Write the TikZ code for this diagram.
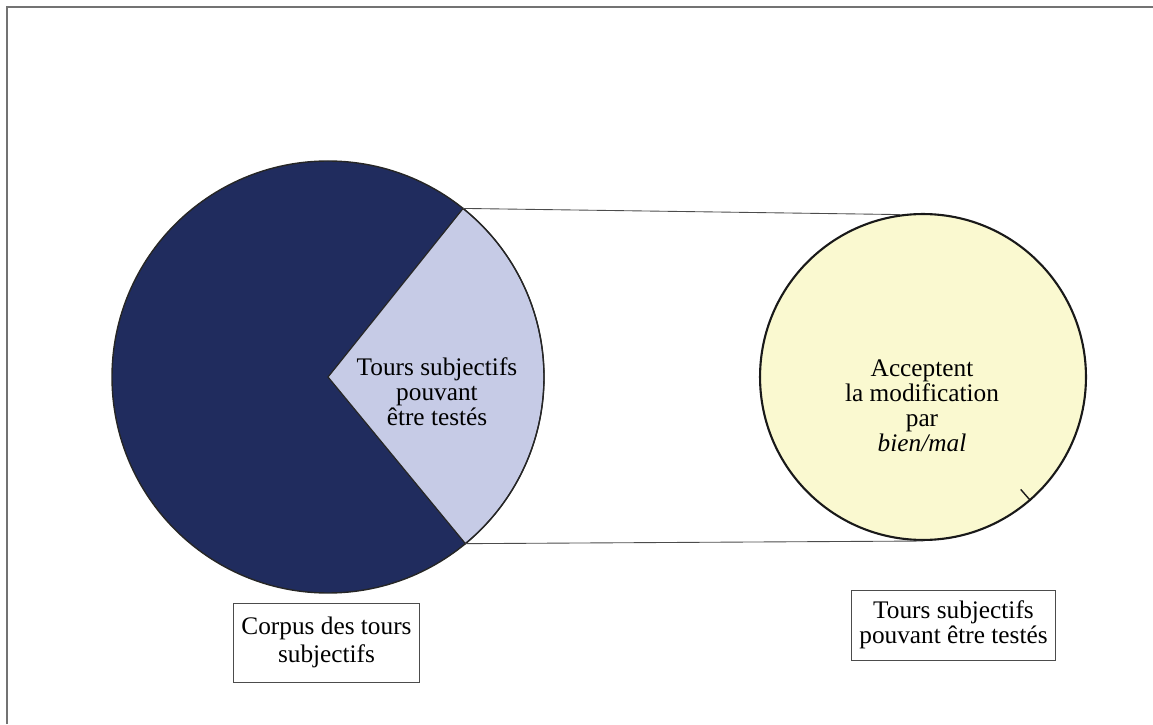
\documentclass[tikz,border=0pt]{standalone}
\usepackage{fontspec}
\setmainfont{Liberation Serif}
\definecolor{corpusblue}{RGB}{32,44,94}
\definecolor{testlilac}{RGB}{198,203,230}
\definecolor{acceptyellow}{RGB}{250,249,208}
\begin{document}
\begin{tikzpicture}[x=0.02cm, y=0.02cm, font=\fontsize{14.4}{14.2}\selectfont,
  labelbox/.style={draw=black!70, fill=white, align=center, inner xsep=0.16cm, inner ysep=0.14cm}]
 \useasboundingbox (0,0) rectangle (1153,724);
 \draw[black!55, thick] (7,0) -- (7,717) -- (1153,717);
 \coordinate (corpus) at (328,347);
 \path (corpus) ++(51.3:216) coordinate (wedgetop);
 \path (corpus) ++(-50.5:216) coordinate (wedgebot);
 \fill[corpusblue] (corpus) circle (216);
 \filldraw[fill=testlilac, draw=black!85, line width=0.7pt] (corpus) -- (wedgebot) arc[start angle=-50.5, end angle=51.3, radius=216] -- cycle;
 \draw[black!85, line width=0.8pt] (corpus) circle (216);
 \node[align=center] (tested) at (437,332) {Tours subjectifs\\pouvant\\être testés};
 \node[circle, draw=black!90, line width=1.2pt, fill=acceptyellow, minimum size=6.52cm, inner sep=0pt] (accept) at (923,347) {};
 \node[align=center] (acceptlabel) at (922,318) {Acceptent\\la modification\\par\\\textit{bien/mal}};
 \path (accept.center) ++(-49:149) coordinate (tick);
 \draw[black!90, line width=0.8pt] (tick) -- (accept.-49);
 \draw[black!70, line width=0.5pt] (wedgetop) -- (accept.98);
 \draw[black!70, line width=0.5pt] (wedgebot) -- (accept.south);
 \node[labelbox, minimum height=1.58cm] (corpuslabel) at (326.5,81.5) {Corpus des tours\\[2pt]subjectifs};
 \node[labelbox, minimum height=1.4cm] (testedlabel) at (953.5,99) {Tours subjectifs\\pouvant être testés};
\end{tikzpicture}
\end{document}
